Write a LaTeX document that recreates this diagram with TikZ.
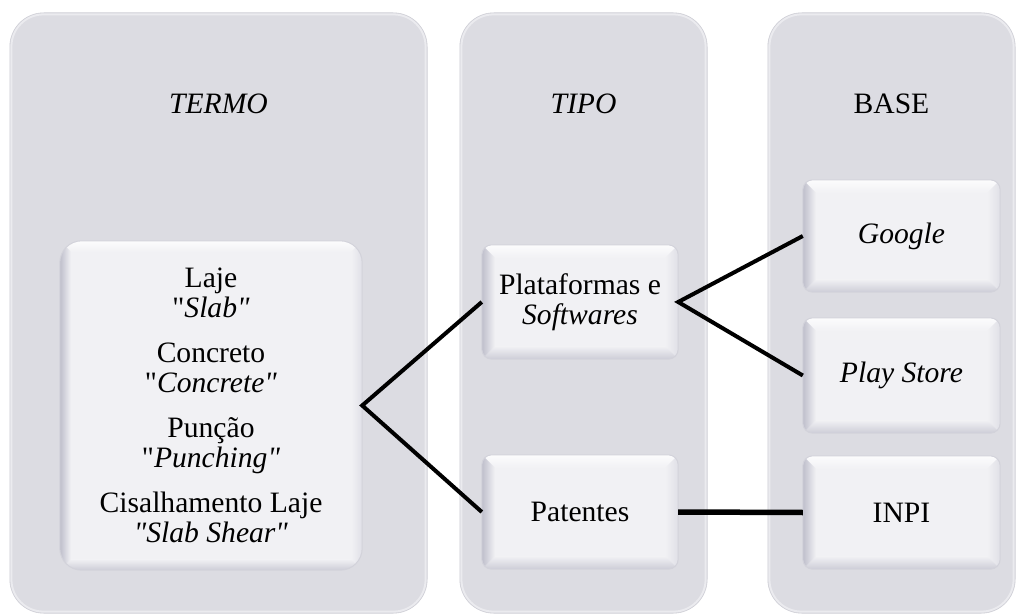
\documentclass[tikz,border=0pt]{standalone}
\usepackage{fontspec}
\setmainfont{Liberation Serif}[Ligatures=TeXOff]
\usetikzlibrary{backgrounds}

\definecolor{colfill}{RGB}{220,220,226}
\definecolor{colrim}{RGB}{235,235,239}
\definecolor{coledge}{RGB}{208,208,215}
\definecolor{boxfill}{RGB}{241,241,244}
\definecolor{bevdark}{RGB}{190,190,203}
\definecolor{bevbot}{RGB}{205,205,215}
\definecolor{bevlight}{RGB}{252,252,253}
\definecolor{bevright}{RGB}{224,224,231}
\definecolor{boxedge}{RGB}{210,210,218}

\tikzset{
  panel/.style={minimum width=247pt, minimum height=600pt, inner sep=0pt},
  paneltitle/.style={font=\fontsize{29.6}{30}\selectfont, inner sep=0pt},
  card/.style={minimum width=196pt, minimum height=114pt, inner sep=0pt,
    align=center, font=\fontsize{29.6}{30}\selectfont},
  link/.style={line width=4pt, black, line join=miter},
}

% rounded grey column behind a group of cards
\newcommand{\panelbg}[1]{%
  \fill[colfill, rounded corners=34pt] (#1.south west) rectangle (#1.north east);
  \draw[colrim, line width=2pt, rounded corners=32pt]
    ([shift={(1.6pt,1.6pt)}]#1.south west) rectangle ([shift={(-1.6pt,-1.6pt)}]#1.north east);
  \draw[coledge, line width=0.6pt, rounded corners=34pt] (#1.south west) rectangle (#1.north east);
}

% bevelled card: name, corner radius, band width
\newcommand{\bevelcard}[3]{%
  \fill[boxfill, rounded corners=#2pt] (#1.south west) rectangle (#1.north east);
  \begin{scope}
    \clip[rounded corners=#2pt] (#1.south west) rectangle (#1.north east);
    \shade[top color=bevlight, bottom color=boxfill]
      (#1.north west) -- (#1.north east) -- ([shift={(-#3pt,-#3pt)}]#1.north east)
      -- ([shift={(#3pt,-#3pt)}]#1.north west) -- cycle;
    \shade[left color=boxfill, right color=bevright]
      (#1.north east) -- (#1.south east) -- ([shift={(-#3pt,#3pt)}]#1.south east)
      -- ([shift={(-#3pt,-#3pt)}]#1.north east) -- cycle;
    \shade[top color=boxfill, bottom color=bevbot]
      (#1.south west) -- ([shift={(#3pt,#3pt)}]#1.south west)
      -- ([shift={(-#3pt,#3pt)}]#1.south east) -- (#1.south east) -- cycle;
    \shade[left color=bevdark, right color=boxfill]
      (#1.north west) -- ([shift={(#3pt,-#3pt)}]#1.north west)
      -- ([shift={(#3pt,#3pt)}]#1.south west) -- (#1.south west) -- cycle;
  \end{scope}
  \draw[boxedge, line width=1pt, rounded corners=#2pt] (#1.south west) rectangle (#1.north east);
}

\begin{document}
\begin{tikzpicture}[x=1pt, y=-1pt]
  \useasboundingbox (0,0) rectangle (1018,615);

  % columns and their headings
  \node[panel, minimum width=417pt] (colTermo) at (218.5,313) {};
  \node[panel] (colTipo) at (583.5,313) {};
  \node[panel] (colBase) at (891.5,313) {};
  \node[paneltitle] (tTermo) at (218.5,104) {\textit{TERMO}};
  \node[paneltitle] (tTipo) at (583.5,104) {\textit{TIPO}};
  \node[paneltitle] (tBase) at (891.5,104) {BASE};

  % search terms
  \node[card, minimum width=302pt, minimum height=329pt] (terms) at (211,405.5)
    {Laje\\"\textit{Slab"}\\[15pt]Concreto\\"\textit{Concrete"}\\[15pt]Punção\\"\textit{Punching"}\\[15pt]Cisalhamento Laje\\\textit{"Slab Shear"}};

  % types
  \node[card] (plat) at (580,302) {Plataformas e\\\textit{Softwares}};
  \node[card] (pat) at (580,512) {Patentes};

  % databases
  \node[card, minimum width=197pt, minimum height=112pt] (google) at (901.5,236) {\textit{Google}};
  \node[card, minimum width=197pt, minimum height=115pt] (play) at (901.5,375.5) {\textit{Play Store}};
  \node[card, minimum width=197pt, minimum height=113pt] (inpi) at (901.5,512.5) {INPI};

  \begin{pgfonlayer}{background}
    \panelbg{colTermo}
    \panelbg{colTipo}
    \panelbg{colBase}
    \bevelcard{terms}{22}{11}
    \bevelcard{plat}{10}{13}
    \bevelcard{pat}{10}{13}
    \bevelcard{google}{10}{13}
    \bevelcard{play}{10}{13}
    \bevelcard{inpi}{10}{13}
  \end{pgfonlayer}

  % connectors
  \draw[link] (plat.west) -- (terms.east) -- (pat.west);
  \draw[link] (google.west) -- (plat.east) -- (play.west);
  \draw[link, line width=5.5pt] (pat.east) -- (inpi.west);
\end{tikzpicture}
\end{document}
